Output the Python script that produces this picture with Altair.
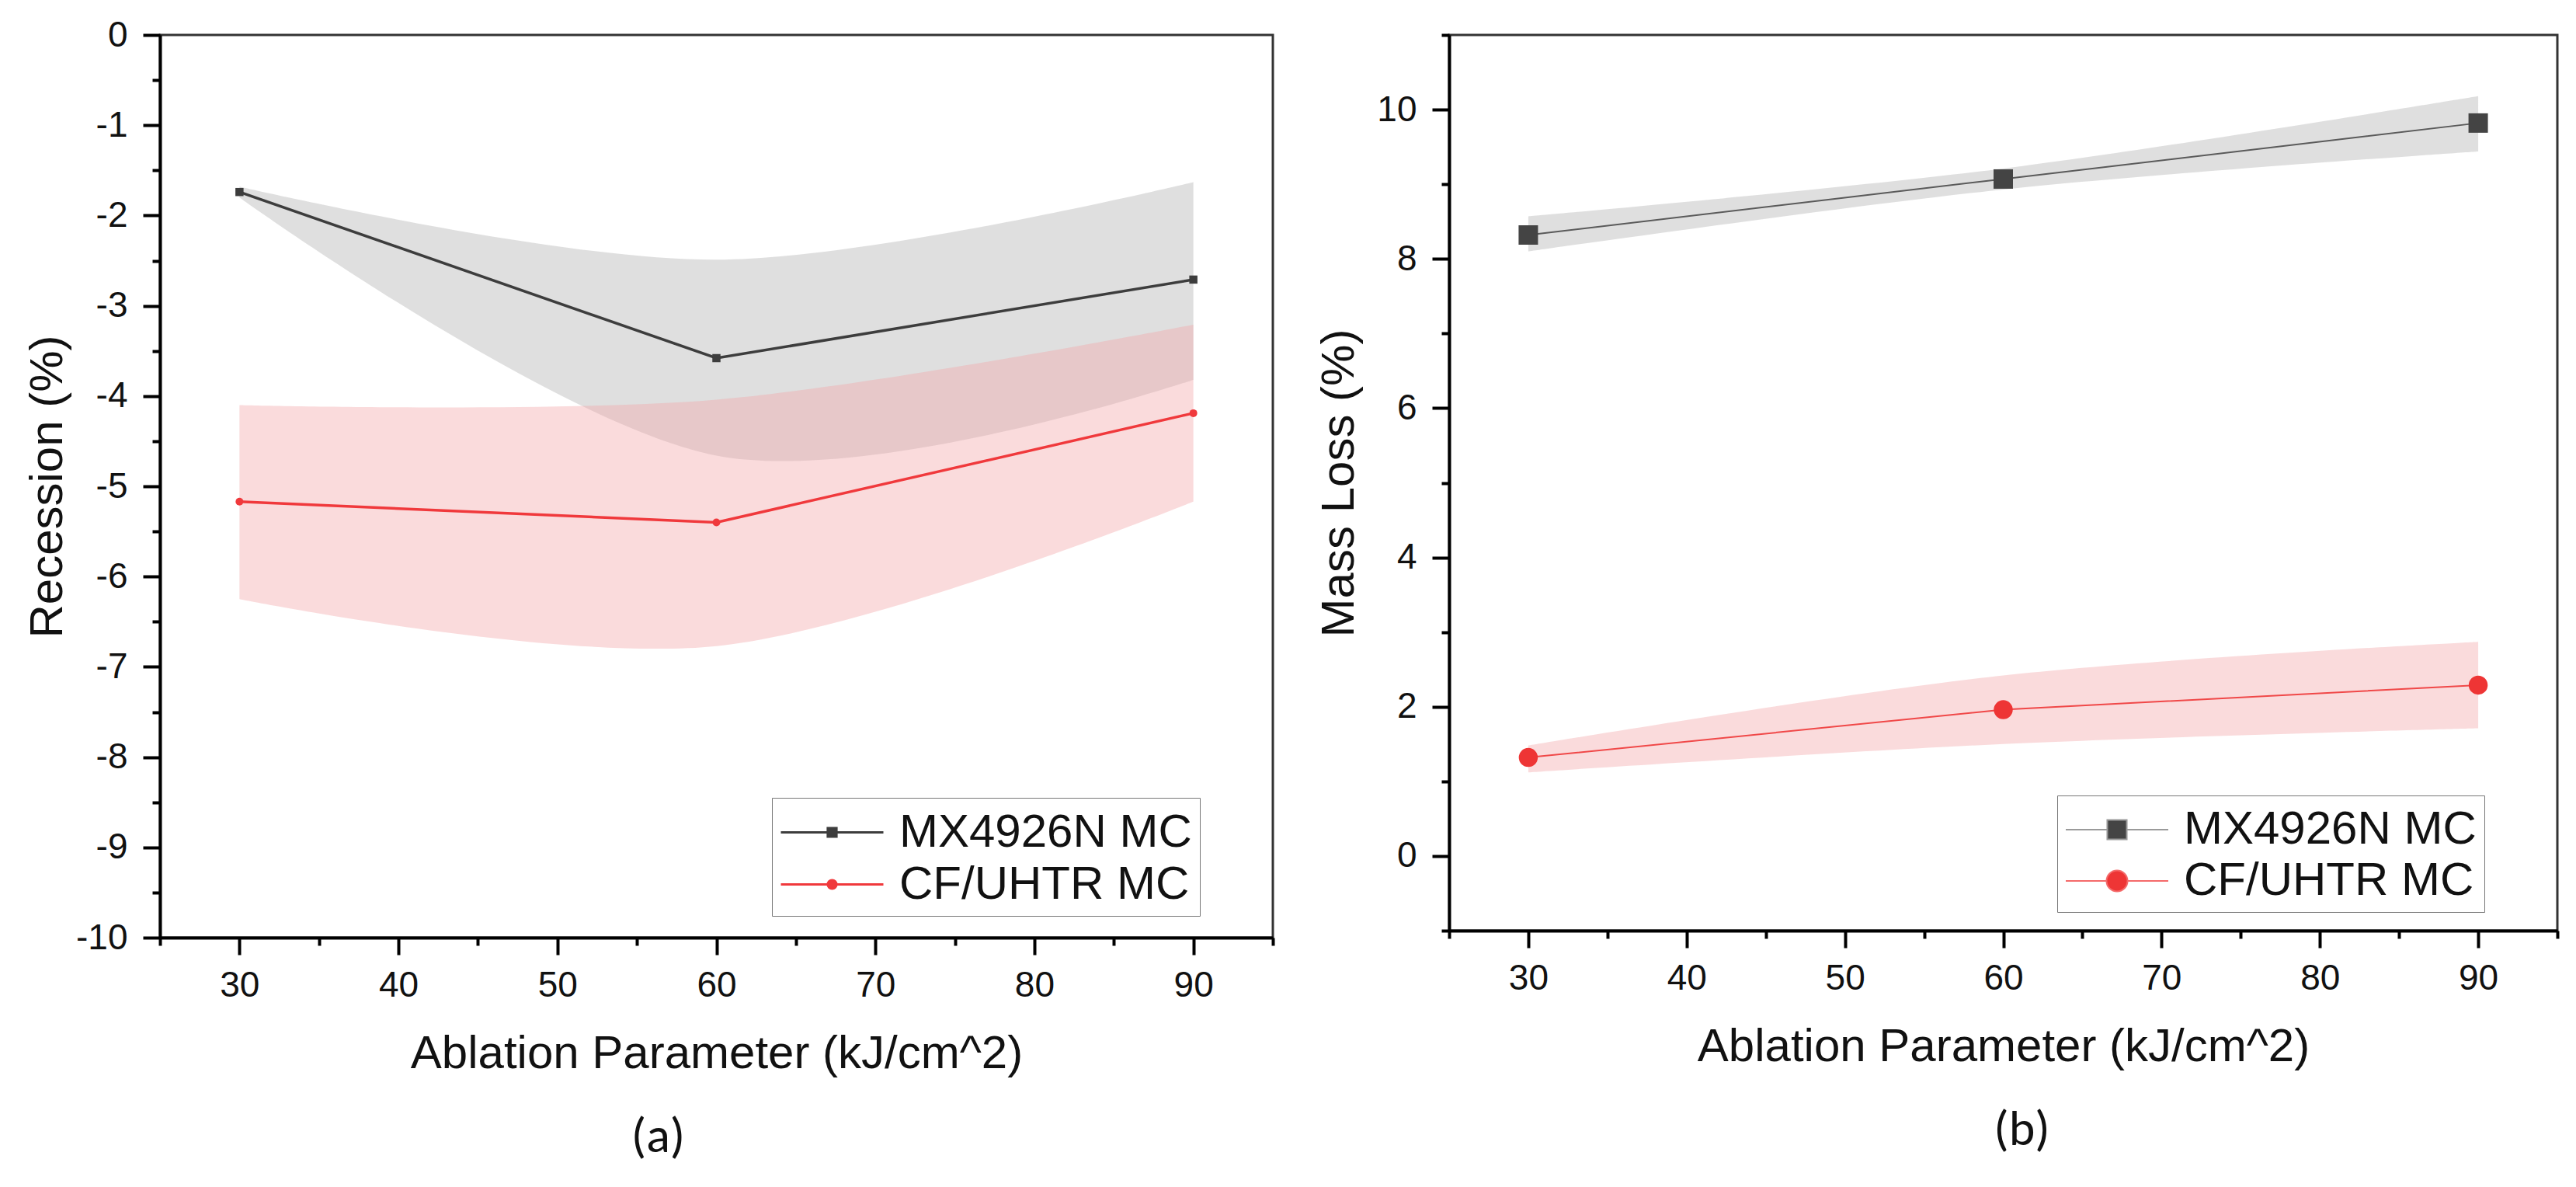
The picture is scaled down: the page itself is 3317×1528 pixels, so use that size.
import altair as alt
import pandas as pd

# Datos
SERIES = ["MX4926N MC", "CF/UHTR MC"]
ABLACION = [30, 60, 90]

# (a) Recesión (%)
REC_MX = [-1.74, -3.58, -2.71]
REC_MX_HI = [-1.68, -2.49, -1.63]
REC_MX_LO = [-1.80, -4.66, -3.82]
REC_CF = [-5.17, -5.40, -4.19]
REC_CF_HI = [-4.10, -4.04, -3.21]
REC_CF_LO = [-6.25, -6.77, -5.17]

# (b) Pérdida de masa (%)
ML_MX = [8.32, 9.07, 9.82]
ML_MX_HI = [8.57, 9.21, 10.18]
ML_MX_LO = [8.10, 8.93, 9.44]
ML_CF = [1.32, 1.96, 2.29]
ML_CF_HI = [1.48, 2.42, 2.87]
ML_CF_LO = [1.12, 1.50, 1.71]

FUENTE = "Liberation Sans, Arial, sans-serif"


def tabla(mx, mx_hi, mx_lo, cf, cf_hi, cf_lo):
    filas = []
    grupos = [(SERIES[0], mx, mx_hi, mx_lo), (SERIES[1], cf, cf_hi, cf_lo)]
    for serie, ys, his, los in grupos:
        for x, y, hi, lo in zip(ABLACION, ys, his, los):
            filas.append({"x": x, "serie": serie, "y": y, "hi": hi, "lo": lo})
    return pd.DataFrame(filas)


# Leyenda: línea con marcador en el centro (trayectoria SVG propia)
def simbolo(forma, r):
    a, b = 1 - r, 1 + r
    linea = f"M-1,0H{a:.3f}M{b:.3f},0H3"
    if forma == "square":
        return linea + f"M{a:.3f},{-r:.3f}H{b:.3f}V{r:.3f}H{a:.3f}Z"
    return linea + f"M{a:.3f},0A{r:.3f},{r:.3f},0,1,0,{b:.3f},0A{r:.3f},{r:.3f},0,1,0,{a:.3f},0Z"


def panel(df, y_dom, y_vals, prueba_mayor, y_titulo, pad_titulo, estilo,
          ancho, alto, leyenda_x, leyenda_y, rotulo, rotulo_dx):
    eje_x = alt.Axis(
        values=list(range(25, 96, 5)),
        labelExpr="datum.value % 10 === 0 ? '' + datum.value : ''",
        tickSize={"condition": {"test": "datum.value % 10 !== 0", "value": 10}, "value": 22},
        title="Ablation Parameter (kJ/cm^2)",
        titlePadding=36,
    )
    eje_y = alt.Axis(
        values=y_vals,
        labelExpr=f"({prueba_mayor}) ? '' + datum.value : ''",
        tickSize={"condition": {"test": f"!({prueba_mayor})", "value": 10}, "value": 22},
        title=y_titulo,
        titlePadding=pad_titulo,
    )
    x_enc = alt.X("x:Q", scale=alt.Scale(domain=[25, 95], nice=False, zero=False), axis=eje_x)
    y_esc = alt.Scale(domain=y_dom, nice=False, zero=False)

    base = alt.Chart(df)
    bandas, lineas, puntos = [], [], []
    for serie, forma in zip(SERIES, ["square", "circle"]):
        e = estilo[serie]
        sub = base.transform_filter(alt.datum.serie == serie)
        bandas.append(
            sub.mark_area(interpolate="cardinal", color=e["banda"], opacity=e["banda_op"]).encode(
                x=x_enc, y=alt.Y("lo:Q", scale=y_esc, axis=eje_y), y2="hi:Q"
            )
        )
        lineas.append(
            sub.mark_line(color=e["linea"], strokeWidth=e["grosor"]).encode(
                x=x_enc, y=alt.Y("y:Q", scale=y_esc, axis=eje_y)
            )
        )
        puntos.append(
            sub.mark_point(filled=True, shape=forma, size=e["tam"], color=e["marca"], opacity=1).encode(
                x=x_enc, y=alt.Y("y:Q", scale=y_esc, axis=eje_y)
            )
        )

    ley = alt.Legend(
        orient="none", legendX=leyenda_x, legendY=leyenda_y, title=None,
        symbolSize=4356, symbolStrokeWidth=estilo["ley_grosor"], labelOffset=85,
        labelFont=FUENTE, labelFontSize=60, labelColor="#111", labelLimit=1000,
        padding=10, rowPadding=2, strokeColor="#777", fillColor="white",
    )
    dominio = SERIES
    leyenda = base.transform_filter("false").mark_point(filled=True, opacity=1).encode(
        x=x_enc,
        y=alt.Y("y:Q", scale=y_esc, axis=eje_y),
        fill=alt.Fill("serie:N", scale=alt.Scale(domain=dominio, range=[estilo[s]["marca"] for s in SERIES]), legend=ley),
        stroke=alt.Stroke("serie:N", scale=alt.Scale(domain=dominio, range=[estilo[s]["ley_linea"] for s in SERIES]), legend=ley),
        shape=alt.Shape("serie:N", scale=alt.Scale(domain=dominio, range=estilo["formas"]), legend=ley),
    )

    return alt.layer(*bandas, *lineas, *puntos, leyenda).properties(
        width=ancho,
        height=alto,
        title=alt.TitleParams(
            rotulo, orient="bottom", anchor="middle", frame="group", dx=rotulo_dx,
            offset=46, font="Carlito, Lato, sans-serif", fontSize=64, fontWeight="normal", color="#111",
        ),
    )


estilo_a = {
    SERIES[0]: {"banda": "#d9d9d9", "banda_op": 0.85, "linea": "#3d3d3d", "grosor": 3.5,
                "tam": 110, "marca": "#3d3d3d", "ley_linea": "#3d3d3d"},
    SERIES[1]: {"banda": "#f2a5a8", "banda_op": 0.4, "linea": "#f0393c", "grosor": 3.5,
                "tam": 100, "marca": "#f0393c", "ley_linea": "#f0393c"},
    "ley_grosor": 3,
    "formas": [simbolo("square", 0.17), simbolo("circle", 0.17)],
}
estilo_b = {
    SERIES[0]: {"banda": "#d9d9d9", "banda_op": 0.85, "linea": "#5a5a5a", "grosor": 2,
                "tam": 625, "marca": "#444444", "ley_linea": "#9a9a9a"},
    SERIES[1]: {"banda": "#f2a5a8", "banda_op": 0.4, "linea": "#f04848", "grosor": 2,
                "tam": 600, "marca": "#ee3535", "ley_linea": "#f46a6a"},
    "ley_grosor": 2,
    "formas": [simbolo("square", 0.38), simbolo("circle", 0.41)],
}

izq = panel(
    tabla(REC_MX, REC_MX_HI, REC_MX_LO, REC_CF, REC_CF_HI, REC_CF_LO),
    [-10, 0], [v / 2 for v in range(-20, 1)], "datum.value % 1 === 0",
    "Recession (%)", 5, estilo_a, 1433, 1162, 788, 982, "(a)", -75,
)
der = panel(
    tabla(ML_MX, ML_MX_HI, ML_MX_LO, ML_CF, ML_CF_HI, ML_CF_LO),
    [-1, 11], list(range(-1, 12)), "datum.value % 2 === 0",
    "Mass Loss (%)", 17, estilo_b, 1427, 1153, 783, 979, "(b)", 24,
)

chart = alt.hconcat(izq, der, spacing=227, bounds="flush").resolve_scale(
    fill="independent", stroke="independent", shape="independent"
).resolve_legend(
    fill="independent", stroke="independent", shape="independent"
).properties(
    padding={"left": 22, "top": 12, "right": 10, "bottom": 5}
).configure_view(
    stroke="#333", strokeWidth=3
).configure_axis(
    domainColor="#000", domainWidth=4, tickColor="#000", tickWidth=4,
    labelFont=FUENTE, labelFontSize=46, labelColor="#111",
    titleFont=FUENTE, titleFontSize=60, titleFontWeight="normal", titleColor="#111",
    grid=False, labelFlush=False, labelOverlap=False,
).configure_axisX(
    labelPadding=17
).configure_axisY(
    labelPadding=20
)

chart.save("out.html", embed_options={"renderer": "svg", "actions": False})
